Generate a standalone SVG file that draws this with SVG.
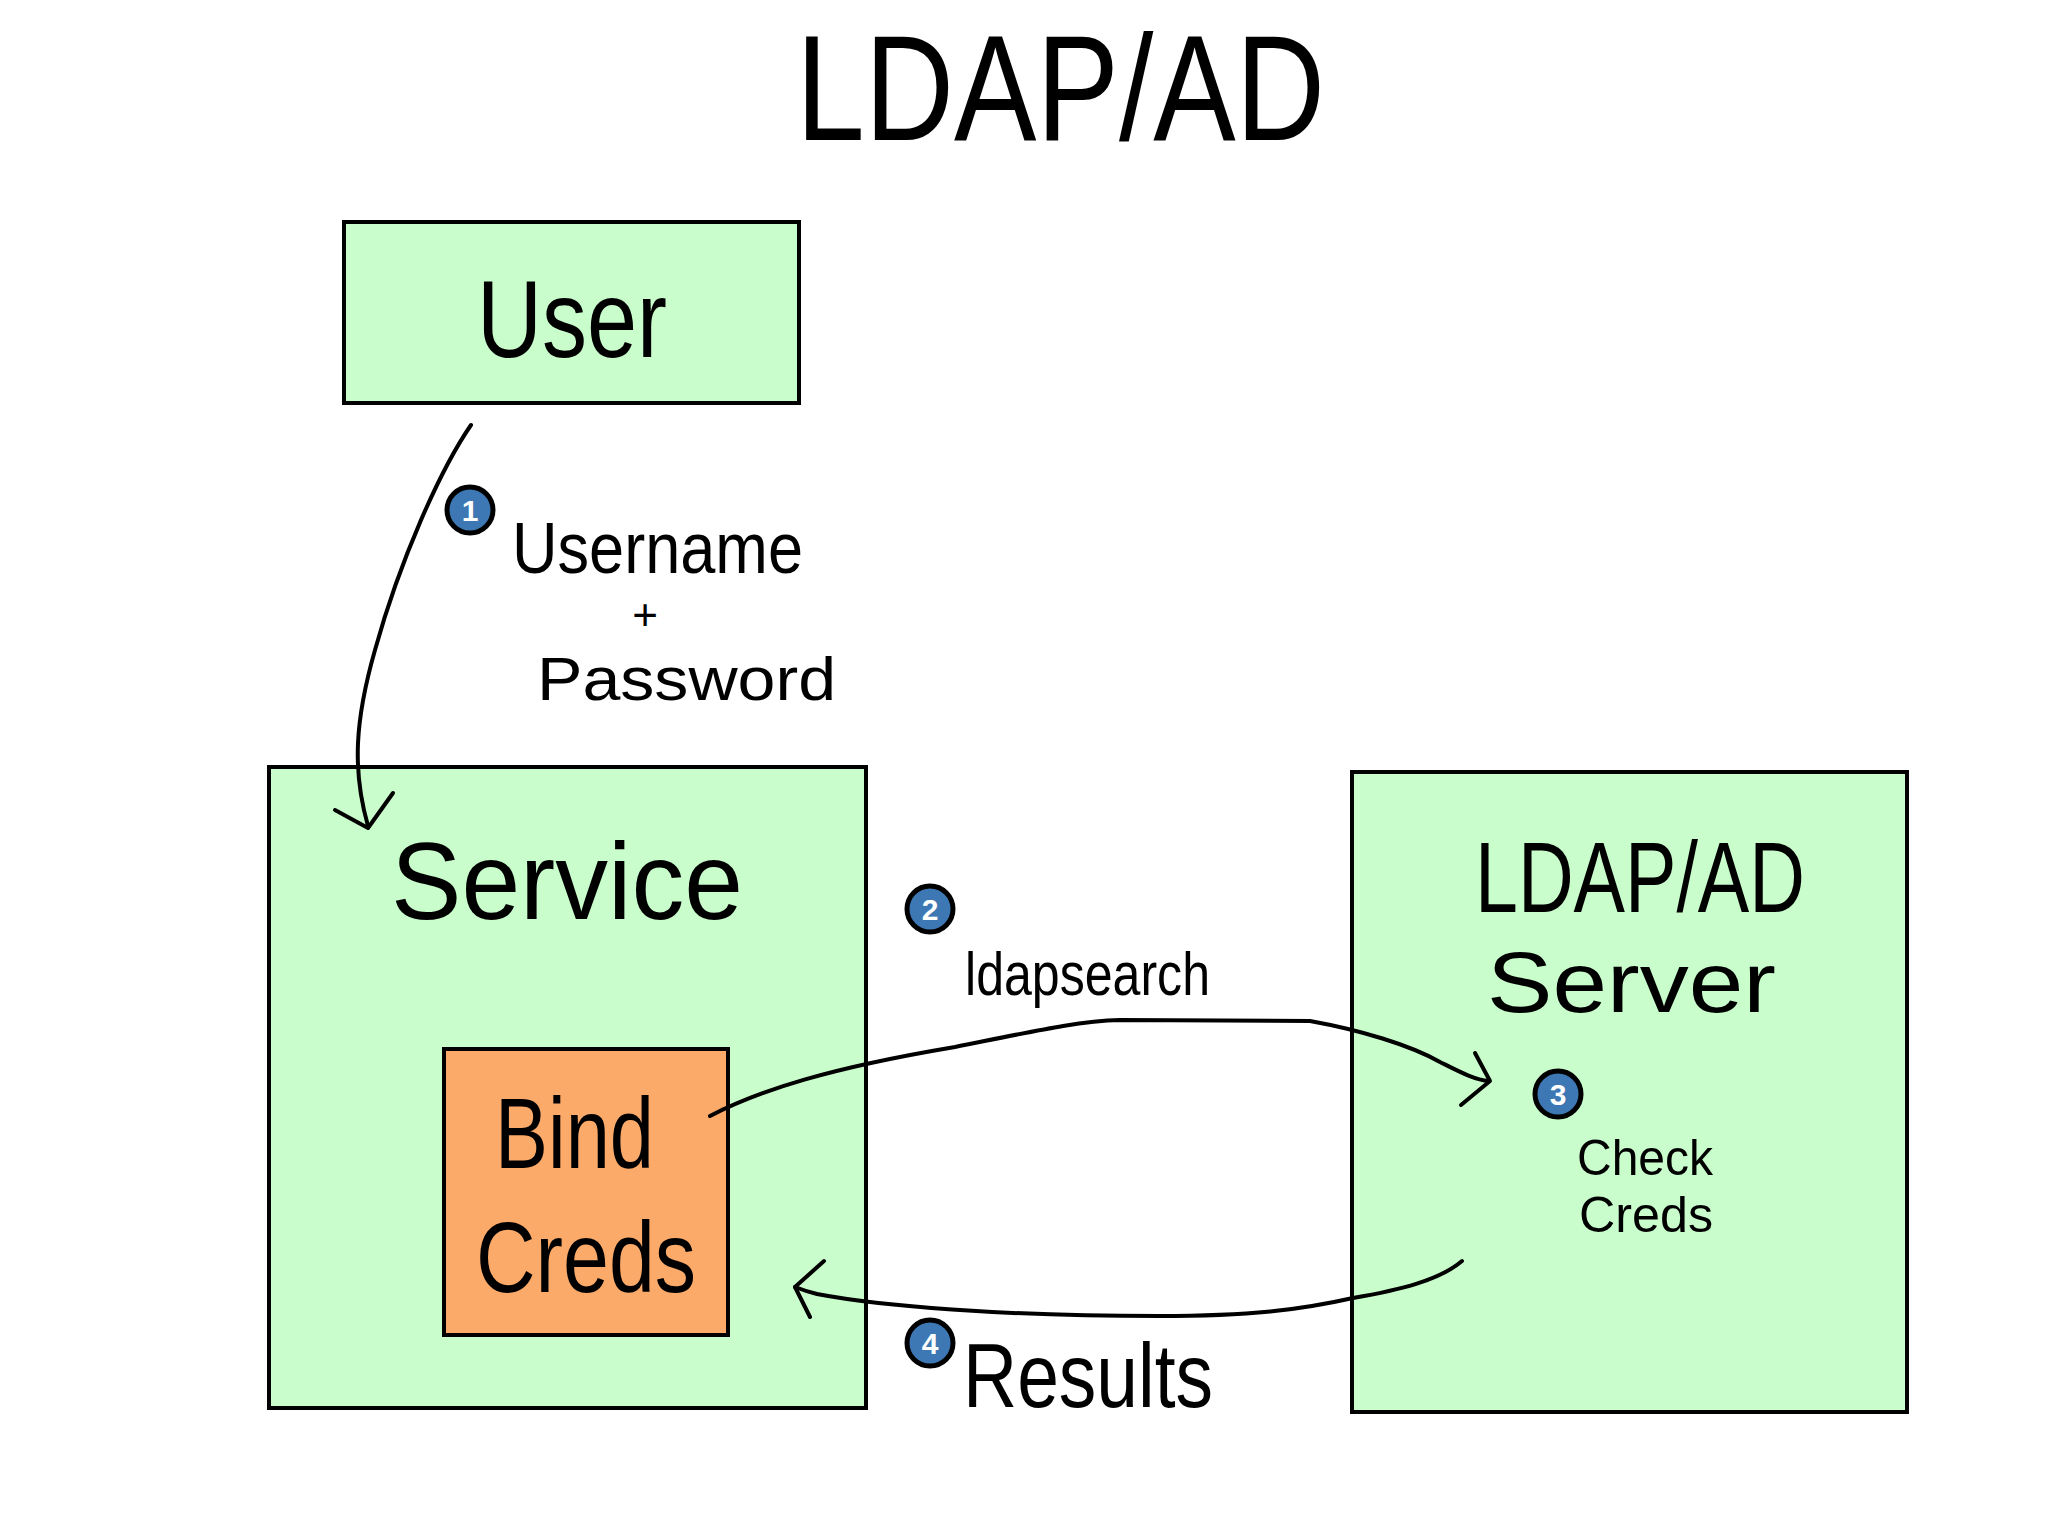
<svg xmlns="http://www.w3.org/2000/svg" width="2048" height="1536" viewBox="0 0 2048 1536">
<style>
.box{fill:#c9fdcc;stroke:#000;stroke-width:4}
.inner{fill:#fbaa6a;stroke:#000;stroke-width:4}
.t{font-family:"Liberation Sans","DejaVu Sans",sans-serif;fill:#000;font-weight:normal}
.badge{fill:#3d78b4;stroke:#000;stroke-width:5}
.num{font-family:"Liberation Sans","DejaVu Sans",sans-serif;fill:#fff;font-size:30px;font-weight:bold;text-anchor:middle}
.conn{fill:none;stroke:#000;stroke-width:4;stroke-linecap:round;stroke-linejoin:round}
</style>
<rect width="2048" height="1536" fill="#fff"/>
<g id="title">
<text class="t" x="796" y="140" font-size="150" textLength="529" lengthAdjust="spacingAndGlyphs">LDAP/AD</text>
</g>
<g id="user">
<rect class="box" x="344" y="222" width="455" height="181"/>
<text class="t" x="477" y="357" font-size="110" textLength="190" lengthAdjust="spacingAndGlyphs">User</text>
</g>
<g id="service">
<rect class="box" x="269" y="767" width="597" height="641"/>
<text class="t" x="391" y="919" font-size="110" textLength="352" lengthAdjust="spacingAndGlyphs">Service</text>
</g>
<g id="bind-creds">
<rect class="inner" x="444" y="1049" width="284" height="286"/>
<text class="t" x="495" y="1168" font-size="100" textLength="159" lengthAdjust="spacingAndGlyphs">Bind</text>
<text class="t" x="476" y="1292" font-size="100" textLength="220" lengthAdjust="spacingAndGlyphs">Creds</text>
</g>
<g id="ldap-server">
<rect class="box" x="1352" y="772" width="555" height="640"/>
<text class="t" x="1475" y="912" font-size="100" textLength="330" lengthAdjust="spacingAndGlyphs">LDAP/AD</text>
<text class="t" x="1487" y="1012" font-size="86" textLength="289" lengthAdjust="spacingAndGlyphs">Server</text>
</g>
<g id="connectors">
<path class="conn" d="M471,425 C440,470 400,560 375,650 C355,720 352,770 368,826"/>
<polyline class="conn" points="335,810 368,828 393,793"/>
<path class="conn" d="M710,1116 C760,1090 830,1068 955,1047 C1040,1030 1080,1021 1120,1020 L1310,1021 C1360,1030 1410,1045 1440,1062 C1460,1072 1475,1080 1489,1081"/>
<polyline class="conn" points="1475,1053 1490,1081 1461,1105"/>
<path class="conn" d="M1462,1261 C1440,1280 1400,1290 1353,1298 C1300,1310 1250,1316 1159,1316 C1000,1316 880,1306 817,1294 C805,1291 800,1289 795,1287"/>
<polyline class="conn" points="824,1261 795,1287 810,1317"/>
</g>
<g id="step1">
<circle class="badge" cx="470" cy="510" r="23"/>
<text class="num" x="470" y="521">1</text>
<text class="t" x="512" y="573" font-size="72" textLength="291" lengthAdjust="spacingAndGlyphs">Username</text>
<text class="t" x="645" y="630" font-size="44" text-anchor="middle">+</text>
<text class="t" x="537" y="700" font-size="62" textLength="299" lengthAdjust="spacingAndGlyphs">Password</text>
</g>
<g id="step2">
<circle class="badge" cx="930" cy="909" r="23"/>
<text class="num" x="930" y="920">2</text>
<text class="t" x="965" y="995" font-size="62" textLength="245" lengthAdjust="spacingAndGlyphs">ldapsearch</text>
</g>
<g id="step3">
<circle class="badge" cx="1558" cy="1094" r="23"/>
<text class="num" x="1558" y="1105">3</text>
<text class="t" x="1577" y="1175" font-size="50" textLength="136" lengthAdjust="spacingAndGlyphs">Check</text>
<text class="t" x="1579" y="1232" font-size="50" textLength="134" lengthAdjust="spacingAndGlyphs">Creds</text>
</g>
<g id="step4">
<circle class="badge" cx="930" cy="1343" r="23"/>
<text class="num" x="930" y="1354">4</text>
<text class="t" x="963" y="1407" font-size="90" textLength="250" lengthAdjust="spacingAndGlyphs">Results</text>
</g>
</svg>
